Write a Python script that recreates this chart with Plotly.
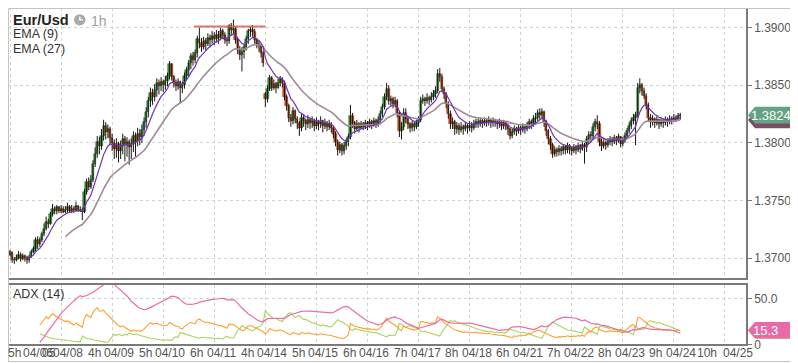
import numpy as np
import plotly.graph_objects as go

# ---------------- data (hourly EUR/USD) ----------------
first_open = 1.3703
gap_open_apr14 = 1.3842   # Monday open after the weekend gap

close_apr07 = [1.3705, 1.3698, 1.3698, 1.3700, 1.3703, 1.3699, 1.3702, 1.3700, 1.3698, 1.3701, 1.3705, 1.3708,
               1.3716, 1.3712, 1.3716, 1.3721, 1.3725, 1.3731, 1.3730, 1.3738, 1.3743, 1.3741, 1.3744, 1.3741]
high_apr07 = [1.3707, 1.3705, 1.3701, 1.3703, 1.3706, 1.3705, 1.3704, 1.3703, 1.3702, 1.3703, 1.3707, 1.3710,
              1.3718, 1.3719, 1.3718, 1.3723, 1.3730, 1.3736, 1.3734, 1.3740, 1.3747, 1.3745, 1.3746, 1.3745]
low_apr07 = [1.3702, 1.3696, 1.3695, 1.3697, 1.3699, 1.3697, 1.3698, 1.3697, 1.3695, 1.3696, 1.3700, 1.3704,
             1.3706, 1.3708, 1.3710, 1.3714, 1.3719, 1.3724, 1.3726, 1.3729, 1.3736, 1.3738, 1.3738, 1.3739]

close_apr08 = [1.3743, 1.3740, 1.3742, 1.3744, 1.3741, 1.3743, 1.3742, 1.3745, 1.3741, 1.3742, 1.3740, 1.3757,
               1.3766, 1.3762, 1.3768, 1.3782, 1.3790, 1.3801, 1.3797, 1.3806, 1.3815, 1.3809, 1.3812, 1.3804]
high_apr08 = [1.3746, 1.3745, 1.3745, 1.3748, 1.3746, 1.3746, 1.3745, 1.3749, 1.3746, 1.3745, 1.3744, 1.3760,
              1.3769, 1.3770, 1.3772, 1.3785, 1.3796, 1.3806, 1.3805, 1.3812, 1.3820, 1.3818, 1.3816, 1.3814]
low_apr08 = [1.3739, 1.3739, 1.3739, 1.3739, 1.3739, 1.3739, 1.3739, 1.3740, 1.3740, 1.3740, 1.3733, 1.3739,
             1.3755, 1.3759, 1.3760, 1.3766, 1.3779, 1.3787, 1.3790, 1.3794, 1.3802, 1.3803, 1.3804, 1.3798]

close_apr09 = [1.3800, 1.3795, 1.3799, 1.3793, 1.3797, 1.3803, 1.3798, 1.3801, 1.3796, 1.3799, 1.3806, 1.3802,
               1.3808, 1.3805, 1.3811, 1.3818, 1.3827, 1.3836, 1.3843, 1.3840, 1.3846, 1.3852, 1.3849, 1.3853]
high_apr09 = [1.3808, 1.3803, 1.3804, 1.3801, 1.3802, 1.3808, 1.3806, 1.3805, 1.3803, 1.3804, 1.3810, 1.3809,
              1.3813, 1.3812, 1.3816, 1.3822, 1.3831, 1.3840, 1.3848, 1.3847, 1.3851, 1.3856, 1.3855, 1.3857]
low_apr09 = [1.3793, 1.3786, 1.3787, 1.3783, 1.3786, 1.3790, 1.3784, 1.3788, 1.3781, 1.3786, 1.3792, 1.3788,
             1.3797, 1.3798, 1.3800, 1.3806, 1.3813, 1.3822, 1.3831, 1.3833, 1.3836, 1.3840, 1.3842, 1.3845]

close_apr10 = [1.3850, 1.3854, 1.3858, 1.3868, 1.3857, 1.3852, 1.3849, 1.3853, 1.3848, 1.3850, 1.3858, 1.3863,
               1.3869, 1.3875, 1.3872, 1.3878, 1.3890, 1.3887, 1.3883, 1.3888, 1.3886, 1.3891, 1.3889, 1.3893]
high_apr10 = [1.3855, 1.3858, 1.3861, 1.3871, 1.3869, 1.3859, 1.3855, 1.3856, 1.3854, 1.3853, 1.3861, 1.3866,
              1.3872, 1.3878, 1.3879, 1.3881, 1.3893, 1.3900, 1.3891, 1.3892, 1.3891, 1.3895, 1.3894, 1.3897]
low_apr10 = [1.3844, 1.3846, 1.3849, 1.3855, 1.3854, 1.3848, 1.3845, 1.3846, 1.3834, 1.3843, 1.3847, 1.3854,
             1.3858, 1.3864, 1.3867, 1.3869, 1.3874, 1.3882, 1.3879, 1.3881, 1.3880, 1.3884, 1.3883, 1.3886]

close_apr11 = [1.3890, 1.3894, 1.3891, 1.3897, 1.3894, 1.3889, 1.3888, 1.3901, 1.3898, 1.3899, 1.3889, 1.3881,
               1.3876, 1.3879, 1.3883, 1.3890, 1.3897, 1.3898, 1.3896, 1.3889, 1.3886, 1.3884, 1.3878, 1.3869]
high_apr11 = [1.3896, 1.3898, 1.3897, 1.3900, 1.3899, 1.3896, 1.3892, 1.3903, 1.3904, 1.3907, 1.3901, 1.3891,
              1.3884, 1.3883, 1.3886, 1.3893, 1.3899, 1.3901, 1.3902, 1.3899, 1.3891, 1.3889, 1.3886, 1.3880]
low_apr11 = [1.3885, 1.3887, 1.3886, 1.3889, 1.3890, 1.3886, 1.3884, 1.3886, 1.3893, 1.3894, 1.3886, 1.3877,
             1.3872, 1.3862, 1.3873, 1.3880, 1.3886, 1.3892, 1.3892, 1.3886, 1.3882, 1.3879, 1.3874, 1.3866]

close_apr14 = [1.3838, 1.3847, 1.3856, 1.3848, 1.3851, 1.3848, 1.3852, 1.3855, 1.3852, 1.3840, 1.3832, 1.3822,
               1.3819, 1.3828, 1.3821, 1.3817, 1.3813, 1.3822, 1.3819, 1.3816, 1.3820, 1.3817, 1.3819, 1.3815]
high_apr14 = [1.3844, 1.3850, 1.3859, 1.3858, 1.3855, 1.3853, 1.3856, 1.3858, 1.3857, 1.3854, 1.3842, 1.3834,
              1.3825, 1.3831, 1.3829, 1.3823, 1.3819, 1.3825, 1.3825, 1.3821, 1.3824, 1.3822, 1.3823, 1.3821]
low_apr14 = [1.3831, 1.3835, 1.3845, 1.3845, 1.3846, 1.3843, 1.3847, 1.3849, 1.3848, 1.3837, 1.3828, 1.3818,
             1.3814, 1.3816, 1.3817, 1.3812, 1.3806, 1.3810, 1.3814, 1.3811, 1.3813, 1.3812, 1.3813, 1.3810]

close_apr15 = [1.3818, 1.3816, 1.3819, 1.3815, 1.3817, 1.3814, 1.3816, 1.3813, 1.3808, 1.3801, 1.3794, 1.3798,
               1.3793, 1.3797, 1.3801, 1.3805, 1.3823, 1.3817, 1.3812, 1.3816, 1.3813, 1.3816, 1.3814, 1.3817]
high_apr15 = [1.3822, 1.3820, 1.3823, 1.3820, 1.3821, 1.3819, 1.3820, 1.3818, 1.3815, 1.3810, 1.3803, 1.3801,
              1.3800, 1.3801, 1.3804, 1.3808, 1.3833, 1.3826, 1.3819, 1.3820, 1.3818, 1.3819, 1.3818, 1.3820]
low_apr15 = [1.3812, 1.3811, 1.3813, 1.3809, 1.3812, 1.3810, 1.3811, 1.3809, 1.3804, 1.3797, 1.3789, 1.3791,
             1.3789, 1.3790, 1.3794, 1.3797, 1.3803, 1.3813, 1.3808, 1.3810, 1.3809, 1.3812, 1.3811, 1.3812]

close_apr16 = [1.3815, 1.3818, 1.3816, 1.3819, 1.3817, 1.3820, 1.3825, 1.3831, 1.3840, 1.3847, 1.3836, 1.3838,
               1.3834, 1.3836, 1.3826, 1.3810, 1.3814, 1.3826, 1.3821, 1.3816, 1.3813, 1.3816, 1.3814, 1.3817]
high_apr16 = [1.3819, 1.3821, 1.3820, 1.3822, 1.3821, 1.3823, 1.3828, 1.3834, 1.3843, 1.3852, 1.3850, 1.3841,
              1.3840, 1.3840, 1.3838, 1.3828, 1.3818, 1.3830, 1.3830, 1.3823, 1.3818, 1.3819, 1.3818, 1.3820]
low_apr16 = [1.3811, 1.3813, 1.3812, 1.3814, 1.3813, 1.3814, 1.3816, 1.3822, 1.3829, 1.3837, 1.3833, 1.3832,
             1.3830, 1.3831, 1.3822, 1.3805, 1.3803, 1.3811, 1.3817, 1.3812, 1.3809, 1.3810, 1.3810, 1.3812]

close_apr17 = [1.3820, 1.3836, 1.3838, 1.3836, 1.3839, 1.3837, 1.3840, 1.3842, 1.3845, 1.3860, 1.3857, 1.3847,
               1.3842, 1.3834, 1.3825, 1.3816, 1.3818, 1.3812, 1.3815, 1.3811, 1.3814, 1.3812, 1.3815, 1.3813]
high_apr17 = [1.3823, 1.3840, 1.3842, 1.3840, 1.3843, 1.3841, 1.3844, 1.3846, 1.3849, 1.3864, 1.3865, 1.3860,
              1.3849, 1.3844, 1.3836, 1.3828, 1.3822, 1.3820, 1.3818, 1.3817, 1.3818, 1.3816, 1.3818, 1.3817]
low_apr17 = [1.3814, 1.3818, 1.3834, 1.3832, 1.3834, 1.3833, 1.3835, 1.3837, 1.3839, 1.3843, 1.3853, 1.3844,
             1.3838, 1.3830, 1.3821, 1.3812, 1.3812, 1.3807, 1.3808, 1.3807, 1.3809, 1.3807, 1.3810, 1.3808]

close_apr18 = [1.3815, 1.3813, 1.3816, 1.3818, 1.3817, 1.3819, 1.3817, 1.3819, 1.3818, 1.3820, 1.3817, 1.3819,
               1.3818, 1.3816, 1.3818, 1.3815, 1.3817, 1.3815, 1.3812, 1.3806, 1.3809, 1.3812, 1.3810, 1.3813]
high_apr18 = [1.3819, 1.3818, 1.3820, 1.3821, 1.3821, 1.3822, 1.3821, 1.3822, 1.3821, 1.3823, 1.3821, 1.3822,
              1.3821, 1.3820, 1.3821, 1.3819, 1.3820, 1.3819, 1.3817, 1.3813, 1.3812, 1.3815, 1.3814, 1.3816]
low_apr18 = [1.3810, 1.3809, 1.3811, 1.3813, 1.3813, 1.3814, 1.3813, 1.3815, 1.3814, 1.3815, 1.3813, 1.3814,
             1.3814, 1.3812, 1.3813, 1.3811, 1.3812, 1.3811, 1.3807, 1.3803, 1.3804, 1.3807, 1.3806, 1.3808]

close_apr21 = [1.3811, 1.3814, 1.3812, 1.3815, 1.3818, 1.3816, 1.3821, 1.3822, 1.3826, 1.3824, 1.3827, 1.3818,
               1.3810, 1.3803, 1.3798, 1.3790, 1.3794, 1.3792, 1.3795, 1.3793, 1.3796, 1.3794, 1.3797, 1.3795]
high_apr21 = [1.3815, 1.3817, 1.3816, 1.3818, 1.3821, 1.3820, 1.3824, 1.3826, 1.3829, 1.3830, 1.3830, 1.3828,
              1.3820, 1.3812, 1.3806, 1.3800, 1.3797, 1.3796, 1.3798, 1.3797, 1.3799, 1.3798, 1.3800, 1.3799]
low_apr21 = [1.3807, 1.3809, 1.3808, 1.3810, 1.3812, 1.3812, 1.3814, 1.3817, 1.3819, 1.3820, 1.3821, 1.3814,
             1.3806, 1.3799, 1.3794, 1.3787, 1.3788, 1.3788, 1.3789, 1.3789, 1.3790, 1.3790, 1.3791, 1.3790]

close_apr22 = [1.3793, 1.3796, 1.3794, 1.3797, 1.3795, 1.3798, 1.3796, 1.3803, 1.3807, 1.3806, 1.3814, 1.3818,
               1.3816, 1.3801, 1.3797, 1.3800, 1.3798, 1.3801, 1.3803, 1.3801, 1.3804, 1.3802, 1.3805, 1.3799]
high_apr22 = [1.3797, 1.3799, 1.3798, 1.3800, 1.3799, 1.3801, 1.3800, 1.3806, 1.3810, 1.3810, 1.3817, 1.3821,
              1.3824, 1.3819, 1.3804, 1.3803, 1.3802, 1.3804, 1.3806, 1.3805, 1.3807, 1.3806, 1.3808, 1.3806]
low_apr22 = [1.3789, 1.3791, 1.3790, 1.3792, 1.3791, 1.3793, 1.3782, 1.3792, 1.3799, 1.3801, 1.3803, 1.3810,
             1.3812, 1.3797, 1.3793, 1.3795, 1.3794, 1.3796, 1.3798, 1.3797, 1.3799, 1.3798, 1.3800, 1.3796]

close_apr23 = [1.3802, 1.3806, 1.3810, 1.3815, 1.3819, 1.3822, 1.3824, 1.3848, 1.3850, 1.3845, 1.3841, 1.3833,
               1.3822, 1.3818, 1.3821, 1.3817, 1.3820, 1.3816, 1.3819, 1.3817, 1.3820, 1.3818, 1.3821, 1.3820]
high_apr23 = [1.3805, 1.3809, 1.3813, 1.3818, 1.3822, 1.3825, 1.3827, 1.3852, 1.3856, 1.3852, 1.3848, 1.3843,
              1.3835, 1.3825, 1.3824, 1.3822, 1.3823, 1.3821, 1.3822, 1.3821, 1.3823, 1.3822, 1.3824, 1.3823]
low_apr23 = [1.3797, 1.3800, 1.3804, 1.3808, 1.3812, 1.3816, 1.3798, 1.3822, 1.3843, 1.3841, 1.3838, 1.3829,
             1.3818, 1.3813, 1.3815, 1.3813, 1.3815, 1.3812, 1.3814, 1.3813, 1.3815, 1.3814, 1.3816, 1.3816]

close_apr24 = [1.3822, 1.3821, 1.3823, 1.3824]
high_apr24 = [1.3825, 1.3824, 1.3826, 1.3826]
low_apr24 = [1.3818, 1.3818, 1.3819, 1.3820]

# last ADX reading printed on the reference's value tag
adx_last_reading = 15.3

# horizontal resistance drawing (price level, from bar, to bar)
resistance_level = 1.3901
resistance_from_bar = 86.5
resistance_to_bar = 120

# x-axis labels and their positions (in hourly bar units)
x_labels = ["5h", "04/06", "05", "04/08", "4h", "04/09", "5h", "04/10", "6h", "04/11", "4h", "04/14",
            "5h", "04/15", "6h", "04/16", "7h", "04/17", "8h", "04/18", "6h", "04/21", "7h", "04/22",
            "8h", "04/23", "9h", "04/24", "10h", "04/25"]
x_label_pos = [2, 13.2, 18.2, 27.3, 39.5, 51.3, 63.5, 75.3, 87.5, 99.3, 111.5, 123.3, 135.5, 147.3, 159.5,
               171.3, 183.5, 195.3, 207.5, 219.3, 231.5, 243.3, 255.5, 267.3, 279.5, 291.3, 303.5, 315.3,
               327.5, 342.0]
day_starts = [0, 24, 48, 72, 96, 120, 144, 168, 192, 216, 240, 264, 288, 312, 336]

# ---------------- assemble ----------------
close_days = [close_apr07, close_apr08, close_apr09, close_apr10, close_apr11, close_apr14, close_apr15,
              close_apr16, close_apr17, close_apr18, close_apr21, close_apr22, close_apr23, close_apr24]
high_days = [high_apr07, high_apr08, high_apr09, high_apr10, high_apr11, high_apr14, high_apr15,
             high_apr16, high_apr17, high_apr18, high_apr21, high_apr22, high_apr23, high_apr24]
low_days = [low_apr07, low_apr08, low_apr09, low_apr10, low_apr11, low_apr14, low_apr15,
            low_apr16, low_apr17, low_apr18, low_apr21, low_apr22, low_apr23, low_apr24]

close = np.array(sum(close_days, []))
high = np.array(sum(high_days, []))
low = np.array(sum(low_days, []))
n = len(close)
idx = np.arange(n)
opn = np.empty(n)
opn[0] = first_open
opn[1:] = close[:-1]
gap_bar = sum(len(d) for d in close_days[:5])
opn[gap_bar] = gap_open_apr14
high = np.maximum(high, np.maximum(opn, close))
low = np.minimum(low, np.minimum(opn, close))


def ema(x, period):
    out = np.full(len(x), np.nan)
    out[period - 1] = x[:period].mean()
    a = 2.0 / (period + 1)
    for i in range(period, len(x)):
        out[i] = out[i - 1] + a * (x[i] - out[i - 1])
    return out


ema9 = ema(close, 9)
ema27 = ema(close, 27)

# ADX(14), Wilder
N = 14
tr = np.zeros(n); pdm = np.zeros(n); mdm = np.zeros(n)
for i in range(1, n):
    tr[i] = max(high[i] - low[i], abs(high[i] - close[i - 1]), abs(low[i] - close[i - 1]))
    up = high[i] - high[i - 1]
    dn = low[i - 1] - low[i]
    pdm[i] = up if (up > dn and up > 0) else 0.0
    mdm[i] = dn if (dn > up and dn > 0) else 0.0
s_tr = np.full(n, np.nan); s_p = np.full(n, np.nan); s_m = np.full(n, np.nan)
s_tr[N] = tr[1:N + 1].sum(); s_p[N] = pdm[1:N + 1].sum(); s_m[N] = mdm[1:N + 1].sum()
for i in range(N + 1, n):
    s_tr[i] = s_tr[i - 1] - s_tr[i - 1] / N + tr[i]
    s_p[i] = s_p[i - 1] - s_p[i - 1] / N + pdm[i]
    s_m[i] = s_m[i - 1] - s_m[i - 1] / N + mdm[i]
pdi = 100 * s_p / s_tr
mdi = 100 * s_m / s_tr
dx = 100 * np.abs(pdi - mdi) / (pdi + mdi)
adx = np.full(n, np.nan)
adx[N] = dx[N] / N
for i in range(N + 1, n):
    adx[i] = adx[i - 1] + (dx[i] - adx[i - 1]) / N

# ---------------- geometry ----------------
W, H = 798, 363
def px(x):
    return x / W
def py(y):
    return 1 - y / H

X_RIGHT = px(738)
x_range = [-0.94, 345.9]
y_range = [1.3900 - 255 / 11750, 1.3900 + 20 / 11750]
adx_range = [0, 65]

grid_col = "#c6d9c6"
axis_col = "#7a7a7a"
font_fam = "Liberation Sans, Arial, sans-serif"

fig = go.Figure()

# wicks
wx, wy = [], []
for i in range(n):
    wx += [i, i, None]
    wy += [low[i], high[i], None]
fig.add_trace(go.Scatter(x=wx, y=wy, mode="lines", line=dict(color="#151515", width=1),
                         hoverinfo="skip", showlegend=False, xaxis="x", yaxis="y"))
# bodies
up_m = close >= opn
body_lo = np.minimum(opn, close)
body_h = np.maximum(np.abs(close - opn), 0.00004)
fig.add_trace(go.Bar(x=idx[up_m], y=body_h[up_m], base=body_lo[up_m], width=1.05,
                     marker=dict(color="#3b9a3b", line=dict(color="#1f5a1f", width=0.5)),
                     showlegend=False, xaxis="x", yaxis="y"))
fig.add_trace(go.Bar(x=idx[~up_m], y=body_h[~up_m], base=body_lo[~up_m], width=1.05,
                     marker=dict(color="#d4561f", line=dict(color="#7f2c0c", width=0.5)),
                     showlegend=False, xaxis="x", yaxis="y"))
# EMAs
fig.add_trace(go.Scatter(x=idx, y=ema27, mode="lines", line=dict(color="#a08a98", width=1.6),
                         showlegend=False, xaxis="x", yaxis="y"))
fig.add_trace(go.Scatter(x=idx, y=ema9, mode="lines", line=dict(color="#7433b8", width=1.2),
                         showlegend=False, xaxis="x", yaxis="y"))
# resistance line
fig.add_trace(go.Scatter(x=[resistance_from_bar, resistance_to_bar], y=[resistance_level, resistance_level],
                         mode="lines", line=dict(color="#e05a5a", width=2), opacity=0.85,
                         showlegend=False, xaxis="x", yaxis="y"))

# ADX panel
fig.add_trace(go.Scatter(x=idx, y=mdi, mode="lines", line=dict(color="#a9d45c", width=1.1),
                         showlegend=False, xaxis="x2", yaxis="y2"))
fig.add_trace(go.Scatter(x=idx, y=pdi, mode="lines", line=dict(color="#ffa033", width=1.1),
                         showlegend=False, xaxis="x2", yaxis="y2"))
fig.add_trace(go.Scatter(x=idx, y=adx, mode="lines", line=dict(color="#ee6aa8", width=1.2),
                         showlegend=False, xaxis="x2", yaxis="y2"))

shapes = []
annotations = []

# outer frame
shapes.append(dict(type="rect", xref="paper", yref="paper", x0=px(0.5), x1=px(795.5), y0=py(360.5), y1=py(0.5),
                   line=dict(color="#c4c4c4", width=1), fillcolor="rgba(0,0,0,0)", layer="above"))


def tag(value, yref, half, color, layer_text=None, text_x=763, size=13):
    x_tip, x_sh, x_end = px(740), px(747), px(798)
    path = (f"M {x_tip},{value} L {x_sh},{value + half} L {x_end},{value + half} "
            f"L {x_end},{value - half} L {x_sh},{value - half} Z")
    shapes.append(dict(type="path", xref="paper", yref=yref, path=path, fillcolor=color,
                       line=dict(width=0), layer="above"))
    if layer_text is not None:
        annotations.append(dict(x=px(text_x), y=value, xref="paper", yref=yref, text=layer_text,
                                showarrow=False, font=dict(color="white", size=size, family=font_fam),
                                xanchor="center", yanchor="middle"))

price_half = 8.5 / 11750
adx_half = 8.5 / 0.94
tag(ema27[-1], "y", price_half, "#7b4c63")
tag(close[-1], "y", price_half, "#64a382", f"{close[-1]:.4f}")
tag(mdi[-1], "y2", adx_half, "#a6d35a")
tag(adx_last_reading, "y2", adx_half, "#ea6aa7", f"{adx_last_reading:.1f}", text_x=757)

# clock icon
shapes.append(dict(type="circle", xref="paper", yref="paper", x0=px(66), x1=px(77.5), y0=py(17.8), y1=py(6.3),
                   fillcolor="#a9a9a9", line=dict(width=0)))
shapes.append(dict(type="path", xref="paper", yref="paper",
                   path=f"M {px(71.8)},{py(8.6)} L {px(71.8)},{py(12.1)} L {px(75)},{py(12.1)}",
                   line=dict(color="white", width=1.4)))

annotations += [
    dict(x=px(3), y=py(12.5), text="<b>Eur/Usd</b>", font=dict(size=14.5, color="#222", family=font_fam)),
    dict(x=px(81), y=py(13), text="1h", font=dict(size=14, color="#a0a0a0", family=font_fam)),
    dict(x=px(3), y=py(26.5), text="EMA (9)", font=dict(size=12.5, color="#333", family=font_fam)),
    dict(x=px(3), y=py(42), text="EMA (27)", font=dict(size=12.5, color="#333", family=font_fam)),
    dict(x=px(3), y=py(292), text="ADX (14)", font=dict(size=12.5, color="#333", family=font_fam)),
]
for a in annotations[-5:]:
    a.update(xref="paper", yref="paper", showarrow=False, xanchor="left", yanchor="middle")

for lab, pos in zip(x_labels, x_label_pos):
    annotations.append(dict(x=pos, y=py(352), xref="x2", yref="paper", text=lab, showarrow=False,
                            xanchor="center", yanchor="middle",
                            font=dict(size=12, color="#555", family=font_fam)))

tickfont = dict(size=12, color="#555", family=font_fam)
fig.update_layout(
    width=W, height=H, margin=dict(l=0, r=0, t=0, b=0),
    paper_bgcolor="white", plot_bgcolor="white",
    barmode="overlay", showlegend=False, bargap=0,
    shapes=shapes, annotations=annotations,
    xaxis=dict(domain=[0, X_RIGHT], range=x_range, anchor="y", tickvals=day_starts, showticklabels=False,
               showgrid=True, gridcolor=grid_col, griddash="dot", gridwidth=1, zeroline=False,
               showline=True, linecolor=axis_col, linewidth=1.5, ticks=""),
    yaxis=dict(domain=[py(275), 1], range=y_range, anchor="x", side="right",
               tick0=1.37, dtick=0.005, tickformat=".4f", tickfont=tickfont,
               showgrid=True, gridcolor=grid_col, griddash="dot", zeroline=False,
               showline=True, linecolor=axis_col, linewidth=1.5, ticks="outside", ticklen=4,
               tickcolor=axis_col),
    xaxis2=dict(domain=[0, X_RIGHT], range=x_range, anchor="y2", tickvals=day_starts, showticklabels=False,
                showgrid=True, gridcolor=grid_col, griddash="dot", zeroline=False,
                showline=True, mirror=True, linecolor=axis_col, linewidth=1.5, ticks=""),
    yaxis2=dict(domain=[py(343), py(282)], range=adx_range, anchor="x2", side="right",
                tickvals=[0, 50], ticktext=["0", "50.0"], tickfont=tickfont,
                showgrid=True, gridcolor=grid_col, griddash="dot", zeroline=False,
                showline=True, linecolor=axis_col, linewidth=1.5, ticks="outside", ticklen=4,
                tickcolor=axis_col),
)

fig.write_html("out.html")
